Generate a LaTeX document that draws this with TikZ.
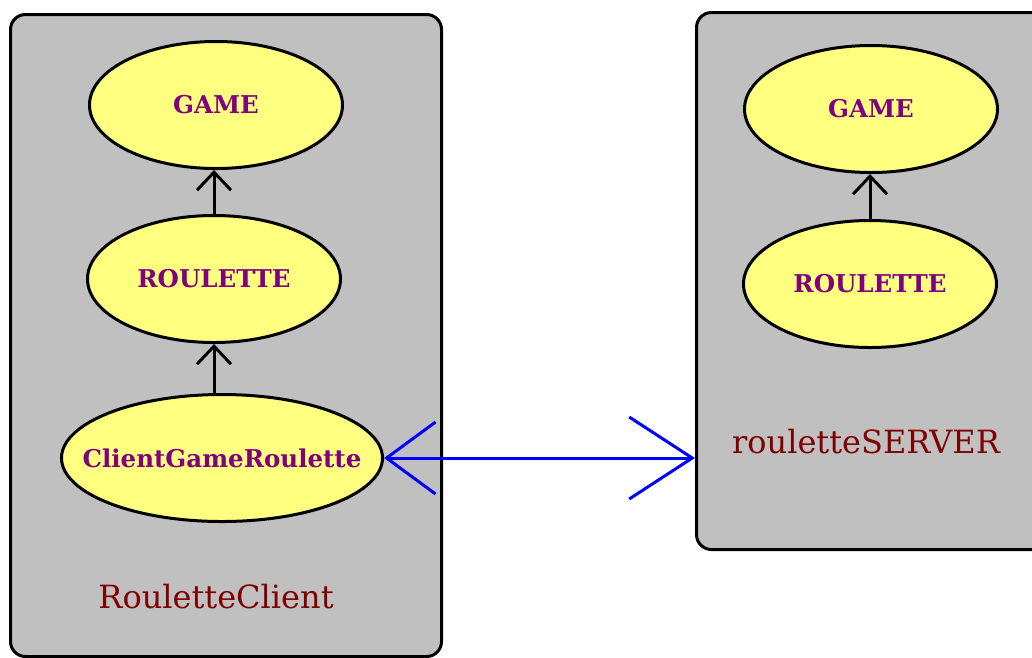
\documentclass[tikz,border=0pt]{standalone}
\usepackage{fontspec}
\setmainfont{DejaVu Serif}
\usetikzlibrary{arrows.meta,shapes.geometric}
\definecolor{boxgray}{HTML}{C0C0C0}
\definecolor{caseyellow}{HTML}{FFFF80}
\definecolor{casepurple}{HTML}{800080}
\definecolor{pkgred}{HTML}{800000}

\begin{document}
\begin{tikzpicture}
	[x=1pt, y=-1pt,
	 pkg/.style={rectangle, draw, line width=3pt, rounded corners=15pt, fill=boxgray, anchor=north west, inner sep=0pt},
	 usecase/.style={ellipse, draw, line width=3pt, fill=caseyellow, text=casepurple, inner sep=0pt,
	   font=\bfseries\fontsize{24.5}{28}\selectfont, minimum width=253pt, minimum height=127pt},
	 pkgname/.style={text=pkgred, anchor=base, font=\fontsize{32}{36}\selectfont},
	 uses/.style={line width=3pt, -{Straight Barb[length=18pt, width=34pt]}}]
	\clip (0,0) rectangle (1032,657);
	% the two packages
	\node[pkg, minimum width=431pt, minimum height=642pt] (client) at (9,13) {};
	\node[pkg, minimum width=360pt, minimum height=537pt] (server) at (695,11) {};
	% client side
	\node[usecase] (GC) at (216,105) {GAME};
	\node[usecase] (RC) at (214,279) {ROULETTE};
	\node[usecase, minimum width=321pt] (CGR) at (222,458) {\makebox[0pt]{ClientGameRoulette}};
	\node[pkgname] (clientname) at (216,608) {RouletteClient};
	% server side
	\node[usecase] (GS) at (871,109) {GAME};
	\node[usecase] (RS) at (870,284) {ROULETTE};
	\node[pkgname] (servername) at (866,453) {rouletteSERVER};
	% dependencies
	\draw[uses] (RC.north) -- (RC.north |- GC.south);
	\draw[uses] (RC.south |- CGR.north) -- (RC.south);
	\draw[uses] (RS.north) -- (RS.north |- GS.south);
	\draw[blue, line width=3pt,
	      {Straight Barb[length=49pt, width=72pt]}-{Straight Barb[length=63pt, width=82pt]}]
	      (CGR.east) -- (CGR.east -| server.west);
\end{tikzpicture}
\end{document}
